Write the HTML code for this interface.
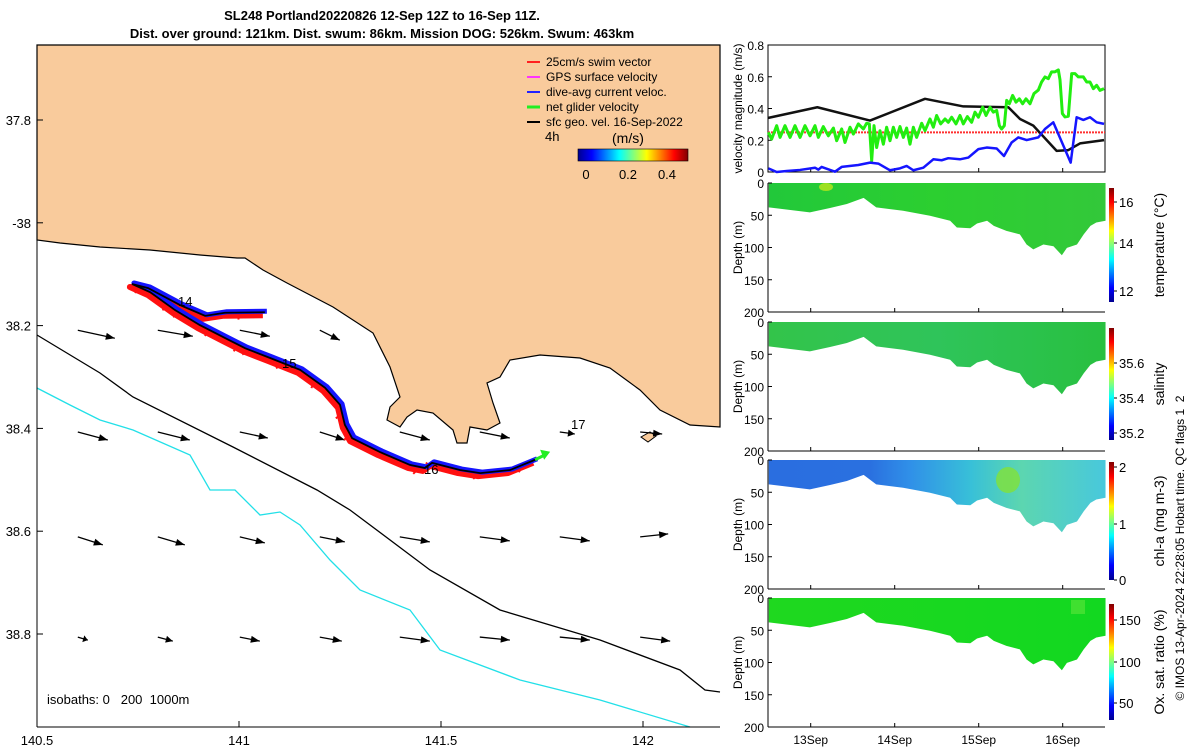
<!DOCTYPE html>
<html><head><meta charset="utf-8"><style>
html,body{margin:0;padding:0;background:#fff}
svg{display:block;font-family:"Liberation Sans","DejaVu Sans",sans-serif}
</style></head><body>
<svg id="fig" width="1200" height="750" viewBox="0 0 1200 750" xmlns="http://www.w3.org/2000/svg">
<defs>
<linearGradient id="jetV" x1="0" y1="1" x2="0" y2="0">
<stop offset="0" stop-color="#00008f"/><stop offset="0.125" stop-color="#0000ff"/><stop offset="0.375" stop-color="#00ffff"/><stop offset="0.625" stop-color="#ffff00"/><stop offset="0.875" stop-color="#ff0000"/><stop offset="1" stop-color="#800000"/></linearGradient>
<linearGradient id="jetH" x1="0" y1="0" x2="1" y2="0">
<stop offset="0" stop-color="#00008f"/><stop offset="0.125" stop-color="#0000ff"/><stop offset="0.375" stop-color="#00ffff"/><stop offset="0.625" stop-color="#ffff00"/><stop offset="0.875" stop-color="#ff0000"/><stop offset="1" stop-color="#800000"/></linearGradient>
<linearGradient id="gTemp" x1="0" y1="0" x2="1" y2="0"><stop offset="0" stop-color="#22c83a"/><stop offset="0.5" stop-color="#2ccf30"/><stop offset="1" stop-color="#33c83a"/></linearGradient>
<linearGradient id="gSal" x1="0" y1="0" x2="1" y2="0"><stop offset="0" stop-color="#33c44a"/><stop offset="0.5" stop-color="#2fc45a"/><stop offset="1" stop-color="#28c040"/></linearGradient>
<linearGradient id="gChl" x1="0" y1="0" x2="1" y2="0"><stop offset="0" stop-color="#2a6ee0"/><stop offset="0.3" stop-color="#2a70e0"/><stop offset="0.42" stop-color="#3090e8"/><stop offset="0.6" stop-color="#38c0d8"/><stop offset="0.75" stop-color="#5cd6b0"/><stop offset="1" stop-color="#48c8dc"/></linearGradient>
<linearGradient id="gOx" x1="0" y1="0" x2="1" y2="0"><stop offset="0" stop-color="#1fd81f"/><stop offset="1" stop-color="#12d820"/></linearGradient>
</defs>

<g font-size="13" font-weight="bold" text-anchor="middle">
<text x="382" y="20">SL248 Portland20220826 12-Sep 12Z to 16-Sep 11Z.</text>
<text x="382" y="38">Dist. over ground: 121km. Dist. swum: 86km. Mission DOG: 526km. Swum: 463km</text>
</g>

<g id="map">
<rect x="37" y="45" width="683" height="682" fill="#fff"/>
<path fill="#F9CB9C" stroke="#000" stroke-width="1.2" d="M37,45 L720,45 L720,427 L690,425 L660,410 L640,390 L610,368 L580,358 L540,355 L510,360 L500,377 L487,383 L493,403 L500,423 L487,430 L470,427 L467,443 L457,443 L453,430 L433,413 L417,410 L407,417 L400,427 L387,420 L390,407 L400,397 L390,367 L373,333 L333,307 L287,283 L263,270 L245,258 L237,258 L200,255 L150,250 L100,247 L60,243 L37,240 Z"/>
<path fill="#F9CB9C" stroke="#000" d="M641,437 L650,432 L656,436 L648,442 Z"/>
<polyline fill="none" stroke="#000" stroke-width="1.3" points="37,335 100,373 133,397 233,447 317,490 350,510 430,570 500,610 600,640 680,670 705,690 720,692"/>
<polyline fill="none" stroke="#22e0e8" stroke-width="1.3" points="37,388 70,405 100,420 133,430 190,455 210,490 235,490 260,515 280,512 300,525 330,560 360,590 410,610 440,650 520,680 600,700 690,727"/>
<g id="arrows"></g>
<g id="track"></g>
<g font-size="13">
<text x="178" y="306">14</text><text x="282" y="368">15</text><text x="424" y="474">16</text><text x="571" y="429">17</text>
</g>
<line x1="37" y1="45" x2="37" y2="727" stroke="#000"/>
<line x1="37" y1="727" x2="720" y2="727" stroke="#000"/>
<g id="mapticks" font-size="13"></g>
<text x="47" y="704" font-size="13" xml:space="preserve">isobaths: 0   200  1000m</text>
<g font-size="12">
<line x1="527" y1="62" x2="540" y2="62" stroke="#ff2020" stroke-width="2"/><text x="546" y="66">25cm/s swim vector</text>
<line x1="527" y1="77" x2="540" y2="77" stroke="#ff33ff" stroke-width="2"/><text x="546" y="81">GPS surface velocity</text>
<line x1="527" y1="92" x2="540" y2="92" stroke="#2222ff" stroke-width="2"/><text x="546" y="96">dive-avg current veloc.</text>
<line x1="527" y1="107" x2="540" y2="107" stroke="#22ee22" stroke-width="3"/><text x="546" y="111">net glider velocity</text>
<line x1="527" y1="122" x2="540" y2="122" stroke="#000" stroke-width="2"/><text x="546" y="126">sfc geo. vel. 16-Sep-2022</text>
<text x="545" y="141" font-size="13">4h</text>
<text x="612" y="143" font-size="14">(m/s)</text>
<rect x="578" y="149" width="110" height="12" fill="url(#jetH)" stroke="#000" stroke-width="0.6"/>
<text x="586" y="179" text-anchor="middle" font-size="13">0</text><text x="628" y="179" text-anchor="middle" font-size="13">0.2</text><text x="667" y="179" text-anchor="middle" font-size="13">0.4</text>
</g>
</g>

<g id="vel"></g>
<g id="depthpanels"></g>
<text transform="translate(1184,548) rotate(-90)" text-anchor="middle" font-size="12" xml:space="preserve">© IMOS 13-Apr-2024 22:28:05 Hobart time. QC flags 1  2</text>
</svg>
<script>
const blackT=[0.496,1.079,1.706,2.361,2.817,3.353,3.492,3.650,3.928,4.067,4.206,4.492];
const blackV=[0.341,0.408,0.324,0.461,0.413,0.408,0.334,0.292,0.133,0.138,0.180,0.201];
const greenT=[0.496,0.535,0.595,0.635,0.694,0.754,0.813,0.873,0.932,0.992,1.051,1.091,1.150,1.210,1.270,1.309,1.369,1.408,1.468,1.508,1.567,1.627,1.666,1.698,1.726,1.754,1.785,1.825,1.865,1.904,1.944,1.984,2.023,2.063,2.103,2.142,2.182,2.222,2.261,2.321,2.361,2.420,2.460,2.499,2.547,2.599,2.638,2.678,2.730,2.777,2.817,2.865,2.916,2.956,2.996,3.047,3.087,3.135,3.174,3.214,3.246,3.273,3.305,3.333,3.365,3.404,3.444,3.484,3.523,3.563,3.611,3.658,3.710,3.749,3.789,3.829,3.868,3.908,3.948,3.968,3.996,4.027,4.067,4.107,4.146,4.186,4.246,4.285,4.325,4.365,4.404,4.444,4.492];
const greenV=[0.250,0.207,0.292,0.218,0.292,0.218,0.292,0.218,0.292,0.228,0.292,0.218,0.286,0.228,0.277,0.197,0.271,0.186,0.282,0.239,0.303,0.271,0.307,0.303,0.070,0.292,0.154,0.260,0.175,0.282,0.197,0.282,0.218,0.286,0.218,0.277,0.175,0.282,0.218,0.307,0.260,0.334,0.282,0.356,0.303,0.334,0.313,0.345,0.303,0.356,0.303,0.349,0.313,0.377,0.345,0.408,0.356,0.408,0.377,0.388,0.292,0.271,0.292,0.451,0.430,0.482,0.440,0.461,0.430,0.461,0.430,0.494,0.516,0.567,0.599,0.588,0.631,0.631,0.643,0.580,0.368,0.347,0.351,0.620,0.620,0.599,0.599,0.567,0.567,0.525,0.546,0.514,0.525];
const blueT=[0.496,0.595,0.714,0.873,1.051,1.091,1.130,1.289,1.369,1.567,1.706,1.805,1.944,2.063,2.142,2.222,2.341,2.460,2.559,2.638,2.777,2.877,2.996,3.095,3.214,3.301,3.392,3.472,3.571,3.710,3.789,3.888,4.095,4.166,4.246,4.325,4.404,4.492];
const blueV=[0.023,0.000,0.006,0.013,0.027,0.015,0.032,0.002,0.032,0.044,0.059,0.053,0.011,0.023,0.038,0.011,0.027,0.080,0.074,0.087,0.080,0.091,0.144,0.154,0.148,0.101,0.186,0.218,0.201,0.218,0.271,0.313,0.059,0.345,0.328,0.345,0.313,0.303];
const swimSpeed=0.25;
const velTicks=[0,0.2,0.4,0.6,0.8];
const dayTicks=[1,2,3,4];
const dayLabels=["13Sep","14Sep","15Sep","16Sep"];
const profT=[0.501,0.99,1.23,1.43,1.63,1.78,2.10,2.42,2.66,2.74,2.90,2.98,3.10,3.18,3.33,3.49,3.57,3.65,3.77,3.89,3.99,4.05,4.17,4.25,4.33,4.40,4.51];
const profD=[37.7,45.5,38.7,32.5,23,37.7,43,50.8,58.6,69,70.2,62.8,58.6,66.5,74.3,79.6,95.3,103,95.3,98,112,100.5,95.3,79.6,66.5,61.3,58.6];
const depthTicks=[0,50,100,150,200];
const trackLon=[141.064,140.965,140.916,140.854,140.775,140.735,140.780,140.842,140.903,140.965,141.015,141.077,141.151,141.213,141.250,141.262,141.280,141.349,141.423,141.460,141.478,141.547,141.597,141.671,141.733];
const trackLat=[38.174,38.175,38.181,38.160,38.127,38.119,38.135,38.170,38.199,38.224,38.244,38.263,38.286,38.321,38.354,38.393,38.419,38.446,38.471,38.477,38.467,38.481,38.487,38.481,38.461];
const arrLon=[140.601,140.799,141.002,141.200,140.601,140.799,141.002,141.200,141.398,141.596,141.794,141.993,140.601,140.799,141.002,141.200,141.398,141.596,141.794,141.993,140.601,140.799,141.002,141.200,141.398,141.596,141.794,141.993];
const arrLat=[38.209,38.209,38.209,38.209,38.407,38.407,38.407,38.407,38.407,38.407,38.407,38.407,38.611,38.611,38.611,38.611,38.611,38.611,38.611,38.611,38.806,38.806,38.806,38.806,38.806,38.806,38.806,38.806];
const arrU=[0.37,0.35,0.30,0.20,0.30,0.32,0.28,0.25,0.30,0.30,0.15,0.22,0.25,0.27,0.25,0.25,0.30,0.30,0.30,0.28,0.10,0.15,0.20,0.22,0.30,0.30,0.30,0.30];
const arrV=[-0.08,-0.06,-0.06,-0.10,-0.08,-0.08,-0.06,-0.08,-0.08,-0.06,-0.02,-0.02,-0.08,-0.08,-0.06,-0.05,-0.05,-0.04,-0.04,0.03,-0.03,-0.04,-0.04,-0.04,-0.04,-0.03,-0.03,-0.04];
const lonTicks=[140.5,141,141.5,142];
const latTicks=[37.8,38,38.2,38.4,38.6,38.8];
const latLabels=["37.8","-38","38.2","38.4","38.6","38.8"];

const NS="http://www.w3.org/2000/svg";
function mk(tag,attrs,parent){const e=document.createElementNS(NS,tag);for(const k in attrs)e.setAttribute(k,attrs[k]);parent.appendChild(e);return e;}
const mx=lon=>37+(lon-140.5)*404;
const my=lat=>120+(lat-37.8)*514;

const mt=document.getElementById('mapticks');
lonTicks.forEach((v,i)=>{const x=mx(v);
 mk('line',{x1:x,y1:727,x2:x,y2:721,stroke:'#000'},mt);
 const t=mk('text',{x:x,y:745,'text-anchor':'middle'},mt);t.textContent=String(v);
 
 });
latTicks.forEach((v,i)=>{const y=my(v);
 mk('line',{x1:37,y1:y,x2:43,y2:y,stroke:'#000'},mt);
 const t=mk('text',{x:31,y:y+5,'text-anchor':'end'},mt);t.textContent=latLabels[i];
 
 });

const ag=document.getElementById('arrows');
const sc=100;
arrLon.forEach((lon,i)=>{const x0=mx(lon),y0=my(arrLat[i]);const dx=arrU[i]*sc,dy=-arrV[i]*sc;
 const g=mk('g',{},ag);
 
 
 const x1=x0+dx,y1=y0+dy;const L=Math.hypot(dx,dy),ux=dx/L,uy=dy/L;const h=Math.min(9,L*0.45);
 mk('line',{x1:x0,y1:y0,x2:x1,y2:y1,stroke:'#000','stroke-width':1.3},g);
 mk('polygon',{points:`${x1},${y1} ${x1-ux*h-uy*3.5},${y1-uy*h+ux*3.5} ${x1-ux*h+uy*3.5},${y1-uy*h-ux*3.5}`,fill:'#000'},g);
});

const tg=document.getElementById('track');
const pts=trackLon.map((lon,i)=>[mx(lon),my(trackLat[i])]);
const ptsStr=(ox,oy)=>pts.map(p=>(p[0]+ox)+','+(p[1]+oy)).join(' ');
for(let i=1;i<pts.length;i++){const [x0,y0]=pts[i-1],[x1,y1]=pts[i];
 for(let k=0;k<4;k++){const f=(k+0.5)/4;const x=x0+(x1-x0)*f,y=y0+(y1-y0)*f;const s=((i*7+k*5)%11-5)*0.8;const s2=((i*3+k*7)%9-4);
  mk('line',{x1:x-2,y1:y+3,x2:x-2+s,y2:y+3+s2,stroke:'#ff1010','stroke-width':2},tg);}}
const red=mk('polyline',{points:ptsStr(-2,3),fill:'none',stroke:'#ff1010','stroke-width':6,'stroke-linejoin':'round'},tg);


const blue=mk('polyline',{points:ptsStr(2,-1),fill:'none',stroke:'#1515ff','stroke-width':5,'stroke-linejoin':'round'},tg);


const blk=mk('polyline',{points:ptsStr(0,0),fill:'none',stroke:'#000','stroke-width':1.8},tg);


const e=pts[pts.length-1];
const gr=mk('g',{},tg);


mk('line',{x1:e[0],y1:e[1],x2:e[0]+10,y2:e[1]-5,stroke:'#22ee22','stroke-width':3},gr);
mk('polygon',{points:`${e[0]+15},${e[1]-8} ${e[0]+5},${e[1]-10} ${e[0]+9},${e[1]}`,fill:'#22ee22'},gr);

const VX0=768,VX1=1105,VY0=45,VY1=172;
const tx=d=>810.7+(d-1)*84;
const vy=v=>VY1-(v/0.8)*(VY1-VY0);
const vg=document.getElementById('vel');
mk('rect',{x:VX0,y:VY0,width:VX1-VX0,height:VY1-VY0,fill:'#fff',stroke:'#000'},vg);
velTicks.forEach(v=>{const y=vy(v);mk('line',{x1:VX0,y1:y,x2:VX0+4,y2:y,stroke:'#000'},vg);
 const t=mk('text',{x:764,y:y+5,'text-anchor':'end','font-size':12},vg);t.textContent=String(v);
 
 });
dayTicks.forEach(d=>{mk('line',{x1:tx(d),y1:VY1,x2:tx(d),y2:VY1-4,stroke:'#000'},vg);});
const vl=mk('text',{transform:`translate(742,${(VY0+VY1)/2}) rotate(-90)`,'text-anchor':'middle','font-size':12},vg);vl.textContent='velocity magnitude (m/s)';


const sl=mk('line',{x1:VX0,y1:vy(swimSpeed),x2:VX1,y2:vy(swimSpeed),stroke:'#ff3030','stroke-width':2,'stroke-dasharray':'2,1'},vg);


function series(T,V,col,w,name){const p=mk('polyline',{points:T.map((t,i)=>tx(t)+','+vy(V[i])).join(' '),fill:'none',stroke:col,'stroke-width':w,'stroke-linejoin':'round'},vg);
 
 }
series(blackT,blackV,'#111',2.5,'geostrophic-speed-line');
series(greenT,greenV,'#22ee10',3,'net-glider-speed-line');
series(blueT,blueV,'#1515ff',2.5,'dive-avg-current-line');

const panels=[
 {y0:183,fill:'url(#gTemp)',name:'temperature',label:'temperature (°C)',ticks:[16,14,12],tickY:[202,243,291],bar:[188,302]},
 {y0:322,fill:'url(#gSal)',name:'salinity',label:'salinity',ticks:['35.6','35.4','35.2'],tickY:[363,398,433],bar:[328,440]},
 {y0:460,fill:'url(#gChl)',name:'chlorophyll',label:'chl-a (mg m-3)',ticks:[2,1,0],tickY:[467,524,580],bar:[462,580]},
 {y0:598,fill:'url(#gOx)',name:'oxygen',label:'Ox. sat. ratio (%)',ticks:[150,100,50],tickY:[620,662,703],bar:[604,720]}];
const dp=document.getElementById('depthpanels');
panels.forEach((P,pi)=>{
 const g=mk('g',{},dp);
 
 
 const H=129,dy=d=>P.y0+d/200*H;
 let d='M'+tx(profT[0])+','+dy(0);
 profT.forEach((t,i)=>{d+=' L'+tx(t)+','+dy(profD[i]);});
 d+=' L'+tx(profT[profT.length-1])+','+dy(0)+' Z';
 const a=mk('path',{d:d,fill:P.fill},g);
 
 
 if(pi===0){mk('ellipse',{cx:826,cy:P.y0+4,rx:7,ry:4,fill:'#9ee020'},g);}
 if(pi===2){mk('ellipse',{cx:1008,cy:P.y0+20,rx:12,ry:13,fill:'#7fe040',opacity:0.85},g);}
 if(pi===3){mk('rect',{x:1071,y:P.y0+2,width:14,height:14,fill:'#40e030'},g);}
 mk('line',{x1:VX0,y1:P.y0,x2:VX0,y2:P.y0+H,stroke:'#000'},g);
 mk('line',{x1:VX0,y1:P.y0+H,x2:VX1,y2:P.y0+H,stroke:'#000'},g);
 depthTicks.forEach(v=>{const y=dy(v);mk('line',{x1:VX0,y1:y,x2:VX0+4,y2:y,stroke:'#000'},g);
  const t=mk('text',{x:764,y:y+5,'text-anchor':'end','font-size':12},g);t.textContent=String(v);});
 dayTicks.forEach(d2=>mk('line',{x1:tx(d2),y1:P.y0+H,x2:tx(d2),y2:P.y0+H-4,stroke:'#000'},g));
 const yl=mk('text',{transform:`translate(742,${P.y0+H/2}) rotate(-90)`,'text-anchor':'middle','font-size':12},g);yl.textContent='Depth (m)';
 
 
 const cb=mk('rect',{x:1109,y:P.bar[0],width:5,height:P.bar[1]-P.bar[0],fill:'url(#jetV)'},g);
 
 
 P.ticks.forEach((tk,i)=>{mk('line',{x1:1114,y1:P.tickY[i],x2:1117,y2:P.tickY[i],stroke:'#000'},g);
  const t=mk('text',{x:1119,y:P.tickY[i]+5,'font-size':13},g);t.textContent=String(tk);});
 const cl=mk('text',{transform:`translate(1164,${(P.bar[0]+P.bar[1])/2}) rotate(-90)`,'text-anchor':'middle','font-size':14},g);cl.textContent=P.label;
 
 
});
dayTicks.forEach((d,i)=>{const t=mk('text',{x:tx(d),y:744,'text-anchor':'middle','font-size':12},dp);t.textContent=dayLabels[i];
 
 });
</script>
</body></html>
